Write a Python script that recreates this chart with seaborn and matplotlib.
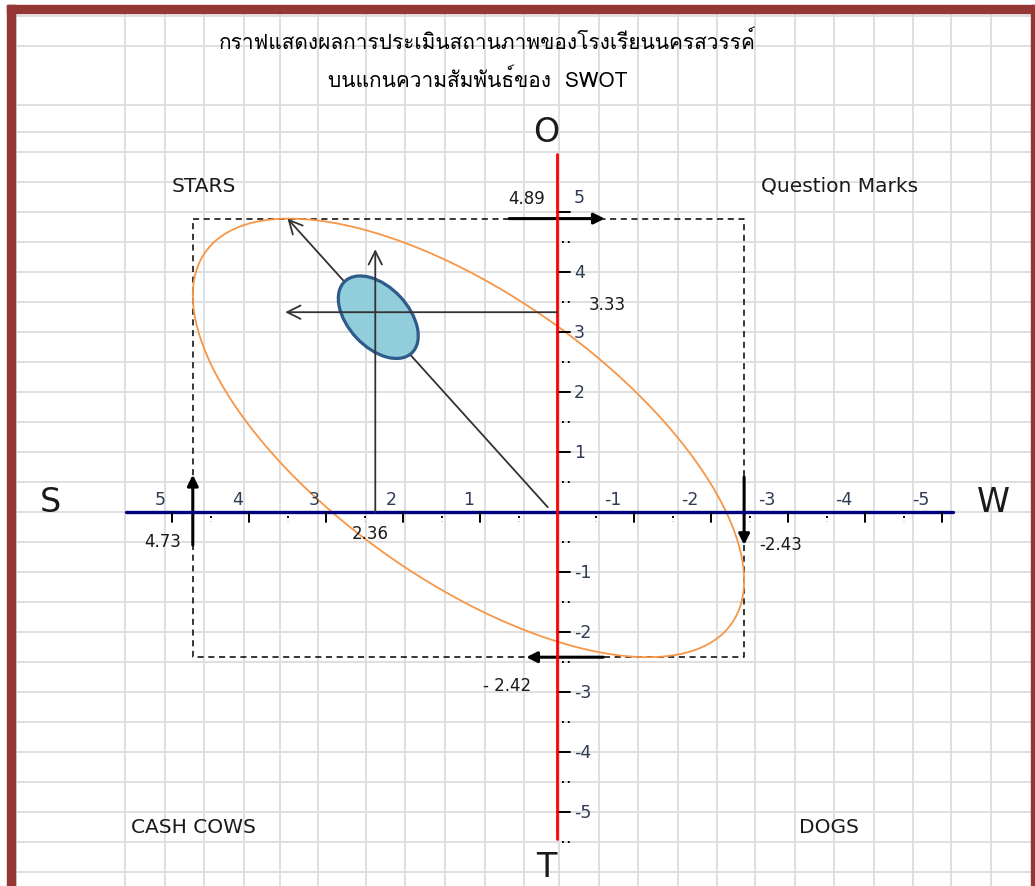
import matplotlib
matplotlib.use("Agg")
import matplotlib.pyplot as plt
import matplotlib.transforms as mtransforms
from matplotlib import font_manager
from matplotlib.ft2font import FT2Font
from matplotlib.patches import Ellipse, Rectangle
import seaborn as sns
import numpy as np
import pandas as pd


# scores
s_score = 4.73       # strengths (left)
w_score = -2.43      # weaknesses (right)
o_score = 4.89       # opportunities (top)
t_score = -2.42      # threats (bottom)
internal_mean = 2.36
external_mean = 3.33
diag_tip = (3.5, 4.89)
vert_tip = 4.38
horiz_tip = 3.53

x_ticks = [5, 4, 3, 2, 1, -1, -2, -3, -4, -5]
y_ticks = [5, 4, 3, 2, 1, -1, -2, -3, -4, -5]
x_minor = [4.5, 3.5, 2.5, 1.5, 0.5, -0.5, -1.5, -2.5, -3.5, -4.5]
y_minor = [4.5, 3.5, 2.5, 1.5, 0.5, -0.5, -1.5, -2.5, -3.5, -4.5, -5.5]

title_lines = ["กราฟแสดงผลการประเมินสถานภาพของโรงเรียนนครสวรรค์",
               "บนแกนความสัมพันธ์ของ  SWOT"]
quadrants = ["STARS", "Question Marks", "CASH COWS", "DOGS"]
axis_letters = ["O", "T", "S", "W"]

W_PX, H_PX = 1035, 887
X0, Y0, XS, YS = 557, 513, 77.0, 60.0   # origin pixel and pixel per unit


def find_thai_font():
    for f in font_manager.fontManager.ttflist:
        try:
            cmap = FT2Font(f.fname).get_charmap()
        except Exception:
            continue
        if 0x0E01 in cmap and 0x0E2A in cmap and 0x0E4C in cmap:
            return f.name
    return "DejaVu Sans"


sns.set_theme(style="white")
thai_font = find_thai_font()
plt.rcParams["font.family"] = ["DejaVu Sans"]

fig = plt.figure(figsize=(W_PX / 100, H_PX / 100), dpi=100)

# excel-like sheet grid and frame, in pixel coordinates
bg = fig.add_axes([0, 0, 1, 1])
bg.set_xlim(0, W_PX)
bg.set_ylim(H_PX, 0)
bg.axis("off")
cols = [16, 125, 165, 204, 244, 280, 318, 366, 405, 445, 485, 524, 559,
        599, 638, 678, 717, 755, 795, 834, 874, 913, 951, 991]
rows = [17, 47, 106, 133, 153] + list(range(183, 880, 30))
bg.vlines(cols, 14, H_PX, color="#dcdcdc", lw=1.3, zorder=0)
bg.hlines(rows, 15, 1031, color="#dcdcdc", lw=1.3, zorder=0)
frame = "#953735"
bg.add_patch(Rectangle((7, 6), 1028, 8, color=frame, zorder=1))
bg.add_patch(Rectangle((7, 6), 8, H_PX, color=frame, zorder=1))
bg.add_patch(Rectangle((1031, 6), 10, H_PX, color=frame, zorder=1))

# chart axes on the same canvas
ax = fig.add_axes([0, 0, 1, 1])
ax.set_facecolor("none")

# main axes
ax.plot([5.6, -5.14], [0, 0], color="#000080", lw=2.4, zorder=4)
ax.plot([0, 0], [5.97, -5.45], color="red", lw=2.0, zorder=5)

tick_color = "#2f3b55"
for v in x_ticks:
    ax.plot([v, v], [0, -0.17], color="black", lw=1.4, zorder=4)
    off = 0.15 if v > 0 else 0.27
    ax.text(v + off, 0.22, str(v), ha="center", va="center",
            fontsize=12.5, color=tick_color, zorder=6)
for v in x_minor:
    ax.plot([v, v], [-0.07, -0.17], color="black", lw=1.4, ls=(0, (1, 2)), zorder=4)
for v in y_ticks:
    ax.plot([0, -0.17], [v, v], color="black", lw=1.4, zorder=4)
    yy = v + 0.25 if v == 5 else v
    ax.text(-0.22, yy, str(v), ha="left", va="center",
            fontsize=12.5, color=tick_color, zorder=6)
for v in y_minor:
    ax.plot([-0.07, -0.19], [v, v], color="black", lw=1.4, ls=(0, (1, 2)), zorder=4)

# dashed bounding rectangle from the four scores
ax.plot([s_score, w_score, w_score, s_score, s_score],
        [o_score, o_score, t_score, t_score, o_score],
        color="black", lw=1.1, ls=(0, (4, 3)), zorder=3)

# orange ellipse inscribed in the rectangle
cx, cy = (s_score + w_score) / 2, (o_score + t_score) / 2
a, b = (s_score - w_score) / 2, (o_score - t_score) / 2
phi = np.arcsin(0.65)
t = np.linspace(0, 2 * np.pi, 400)
ell = pd.DataFrame({"x": cx + a * np.cos(t), "y": cy + b * np.sin(t + phi)})
sns.lineplot(data=ell, x="x", y="y", sort=False, estimator=None,
             color="#f79646", lw=1.3, ax=ax, zorder=3)

# thin arrows
thin = dict(arrowstyle="->", color="#333333", lw=1.3, mutation_scale=24,
            shrinkA=0, shrinkB=0)
ax.annotate("", xy=diag_tip, xytext=(0.12, 0.08), arrowprops=thin, zorder=5)

# blue mean ellipse
trans = fig.dpi_scale_trans + mtransforms.ScaledTranslation(
    internal_mean, external_mean, ax.transData)
ax.add_patch(Ellipse((0.03, -0.05), 0.98, 0.6, angle=-47, transform=trans,
                     facecolor="#92cddc", edgecolor="#2e5c8a", lw=2.3, zorder=6))

ax.annotate("", xy=(internal_mean, vert_tip), xytext=(internal_mean, 0),
            arrowprops=thin, zorder=7)
ax.annotate("", xy=(horiz_tip, external_mean), xytext=(0, external_mean),
            arrowprops=thin, zorder=7)

# heavy score arrows
heavy = dict(arrowstyle="-|>", color="black", lw=2.2, mutation_scale=16,
             shrinkA=0, shrinkB=0)
ax.annotate("", xy=(s_score, 0.62), xytext=(s_score, -0.55), arrowprops=heavy)
ax.annotate("", xy=(w_score, -0.55), xytext=(w_score, 0.58), arrowprops=heavy)
ax.annotate("", xy=(-0.62, o_score), xytext=(0.62, o_score), arrowprops=heavy)
ax.annotate("", xy=(0.4, t_score), xytext=(-0.6, t_score), arrowprops=heavy)

val_kw = dict(ha="center", va="center", fontsize=12, color="#1a1a1a", zorder=8)
ax.text(0.39, o_score + 0.34, f"{o_score:.2f}", **val_kw)
ax.text(-0.65, external_mean + 0.14, f"{external_mean:.2f}", **val_kw)
ax.text(internal_mean + 0.07, -0.35, f"{internal_mean:.2f}", **val_kw)
ax.text(s_score + 0.39, -0.48, f"{s_score:.2f}", **val_kw)
ax.text(w_score - 0.47, -0.53, f"{w_score:.2f}", **val_kw)
ax.text(-t_score * 0.27, t_score - 0.46, f"- {abs(t_score):.2f}", **val_kw)

ax.set_xlim(X0 / XS, (X0 - W_PX) / XS)
ax.set_ylim((Y0 - H_PX) / YS, Y0 / YS)
ax.axis("off")

# titles and labels
fx = lambda px: px / W_PX
fy = lambda py: 1 - py / H_PX
fig.text(fx(487), fy(42), title_lines[0], ha="center", va="center",
         fontsize=15, color="black", family=[thai_font, "DejaVu Sans"])
fig.text(fx(478), fy(80), title_lines[1], ha="center", va="center",
         fontsize=15, color="black", family=[thai_font, "DejaVu Sans"])

q_pos = [(204, 186), (840, 186), (193, 828), (829, 828)]
for name, (px, py) in zip(quadrants, q_pos):
    fig.text(fx(px), fy(py), name, ha="center", va="center", fontsize=14.5,
             color="#1a1a1a")

l_pos = [(546, 132), (546, 868), (50, 503), (993, 503)]
for name, (px, py) in zip(axis_letters, l_pos):
    fig.text(fx(px), fy(py), name, ha="center", va="center", fontsize=24,
             color="#1a1a1a")

fig.savefig("out.png", dpi=100)
